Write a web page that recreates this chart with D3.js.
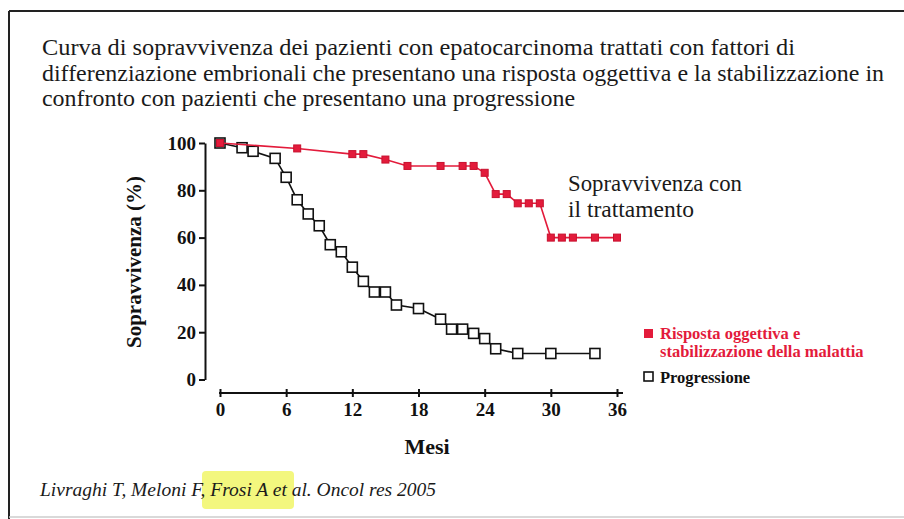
<!DOCTYPE html>
<html>
<head>
<meta charset="utf-8">
<script src="https://cdn.jsdelivr.net/npm/d3@7"></script>
<style>
  body { margin: 0; background: #fff; }
  svg { display: block; }
</style>
</head>
<body>
<svg id="chart" width="904" height="519"></svg>
<script>
// Mesi (months) and survival % for each group
const respMonths = [0, 7, 12, 13, 15, 17, 20, 22, 23, 24, 25, 26, 27, 28, 29, 30, 31, 32, 34, 36];
const respValues = [100, 97.7, 95.3, 95.3, 93, 90.3, 90.3, 90.3, 90.3, 87.4, 78.4, 78.4, 74.5, 74.5, 74.5, 60, 60, 60, 60, 60];

const progMonths = [0, 2, 3, 5, 6, 7, 8, 9, 10, 11, 12, 13, 14, 15, 16, 18, 20, 21, 22, 23, 24, 25, 27, 30, 34];
const progValues = [100, 98, 96.5, 93.5, 85.5, 76, 70, 65, 57, 54, 47.5, 41.5, 37, 37, 31.5, 30, 25.5, 21.3, 21.3, 19.5, 17.3, 13, 11, 11, 11];

const xTicks = [0, 6, 12, 18, 24, 30, 36];
const yTicks = [0, 20, 40, 60, 80, 100];

const titleLines = [
  "Curva di sopravvivenza dei pazienti con epatocarcinoma trattati con fattori di",
  "differenziazione embrionali che presentano una risposta oggettiva e la stabilizzazione in",
  "confronto con pazienti che presentano una progressione"
];

const RED = "#e31b3b";
const serif = "'Liberation Serif', 'Times New Roman', Times, serif";

const svg = d3.select("#chart");

// frame
svg.append("line").attr("x1", 9).attr("x2", 904).attr("y1", 11).attr("y2", 11)
  .attr("stroke", "#222").attr("stroke-width", 2);
svg.append("line").attr("x1", 9).attr("x2", 9).attr("y1", 11).attr("y2", 519)
  .attr("stroke", "#222").attr("stroke-width", 2);
svg.append("line").attr("x1", 9).attr("x2", 904).attr("y1", 517).attr("y2", 517)
  .attr("stroke", "#ccc").attr("stroke-width", 1.5);

// Title
const titleWidths = [753, 842, 533];
svg.append("g").selectAll("text")
  .data(titleLines)
  .join("text")
  .attr("x", 42)
  .attr("y", (d, i) => 55 + i * 25.5)
  .attr("textLength", (d, i) => titleWidths[i])
  .attr("lengthAdjust", "spacingAndGlyphs")
  .attr("font-family", serif)
  .attr("font-size", 24)
  .attr("fill", "#1a1a1a")
  .text(d => d);

// scales
const x = d3.scaleLinear().domain([0, 36]).range([220, 617]);
const y = d3.scaleLinear().domain([0, 100]).range([379.5, 143]);

// y axis
const yAxis = svg.append("g")
  .attr("transform", "translate(205,0)")
  .call(d3.axisLeft(y).tickValues(yTicks).tickSize(6).tickPadding(3).tickSizeOuter(0));
yAxis.select(".domain").attr("stroke", "#111").attr("stroke-width", 2);
yAxis.selectAll(".tick line").attr("stroke", "#111").attr("stroke-width", 2);
yAxis.selectAll("text")
  .attr("font-family", serif)
  .attr("font-size", 19)
  .attr("font-weight", "bold")
  .attr("fill", "#111");

// x axis
const xAxis = svg.append("g")
  .attr("transform", "translate(0,393)")
  .call(d3.axisBottom(x).tickValues(xTicks).tickSize(4).tickPadding(6).tickSizeOuter(0));
xAxis.select(".domain").attr("d", "M219,0H623").attr("stroke", "#111").attr("stroke-width", 2);
xAxis.selectAll(".tick line").attr("y1", -4).attr("stroke", "#111").attr("stroke-width", 2);
xAxis.selectAll("text")
  .attr("font-family", serif)
  .attr("font-size", 19)
  .attr("font-weight", "bold")
  .attr("fill", "#111");

// axis labels
svg.append("text")
  .attr("transform", "translate(141,262) rotate(-90)")
  .attr("text-anchor", "middle")
  .attr("font-family", serif)
  .attr("font-size", 21)
  .attr("font-weight", "bold")
  .attr("fill", "#111")
  .text("Sopravvivenza (%)");

svg.append("text")
  .attr("x", 427)
  .attr("y", 454)
  .attr("text-anchor", "middle")
  .attr("font-family", serif)
  .attr("font-size", 22)
  .attr("font-weight", "bold")
  .attr("fill", "#111")
  .text("Mesi");

const line = d3.line().x(d => x(d[0])).y(d => y(d[1]));

const progData = progMonths.map((m, i) => [m, progValues[i]]);
const respData = respMonths.map((m, i) => [m, respValues[i]]);

// Progressione
svg.append("path")
  .datum(progData)
  .attr("d", line)
  .attr("fill", "none")
  .attr("stroke", "#111")
  .attr("stroke-width", 1.6);
svg.append("g").selectAll("rect")
  .data(progData)
  .join("rect")
  .attr("x", d => x(d[0]) - 5)
  .attr("y", d => y(d[1]) - 5)
  .attr("width", 10)
  .attr("height", 10)
  .attr("fill", "#fff")
  .attr("stroke", "#111")
  .attr("stroke-width", 1.6);

// Risposta oggettiva
svg.append("path")
  .datum(respData)
  .attr("d", line)
  .attr("fill", "none")
  .attr("stroke", RED)
  .attr("stroke-width", 1.6);
svg.append("g").selectAll("rect")
  .data(respData)
  .join("rect")
  .attr("x", d => x(d[0]) - 3.5)
  .attr("y", d => y(d[1]) - 3.5)
  .attr("width", 7)
  .attr("height", 7)
  .attr("fill", RED)
  .attr("stroke", "#c8102e")
  .attr("stroke-width", 1);

// annotation
svg.append("g").selectAll("text")
  .data(["Sopravvivenza con", "il trattamento"])
  .join("text")
  .attr("x", 568)
  .attr("y", (d, i) => 191 + i * 26)
  .attr("textLength", (d, i) => [174, 126][i])
  .attr("lengthAdjust", "spacingAndGlyphs")
  .attr("font-family", serif)
  .attr("font-size", 24)
  .attr("fill", "#1a1a1a")
  .text(d => d);

// legend
svg.append("rect").attr("x", 644).attr("y", 329).attr("width", 9).attr("height", 9).attr("fill", RED);
svg.append("g").selectAll("text")
  .data(["Risposta oggettiva e", "stabilizzazione della malattia"])
  .join("text")
  .attr("x", 660)
  .attr("y", (d, i) => 339 + i * 17.5)
  .attr("font-family", serif)
  .attr("font-size", 16.5)
  .attr("font-weight", "bold")
  .attr("fill", RED)
  .text(d => d);
svg.append("rect").attr("x", 644).attr("y", 372).attr("width", 9).attr("height", 9)
  .attr("fill", "#fff").attr("stroke", "#111").attr("stroke-width", 1.6);
svg.append("text")
  .attr("x", 660)
  .attr("y", 383)
  .attr("font-family", serif)
  .attr("font-size", 16.5)
  .attr("font-weight", "bold")
  .attr("fill", "#111")
  .text("Progressione");

// footer with highlight
svg.append("rect").attr("x", 202).attr("y", 471).attr("width", 92).attr("height", 38)
  .attr("rx", 4).attr("fill", "#f3f77e");
svg.append("text")
  .attr("x", 40)
  .attr("y", 496)
  .attr("textLength", 396)
  .attr("lengthAdjust", "spacingAndGlyphs")
  .attr("font-family", serif)
  .attr("font-size", 19)
  .attr("font-style", "italic")
  .attr("fill", "#1a1a1a")
  .text("Livraghi T, Meloni F, Frosi A et al. Oncol res 2005");
</script>
</body>
</html>
